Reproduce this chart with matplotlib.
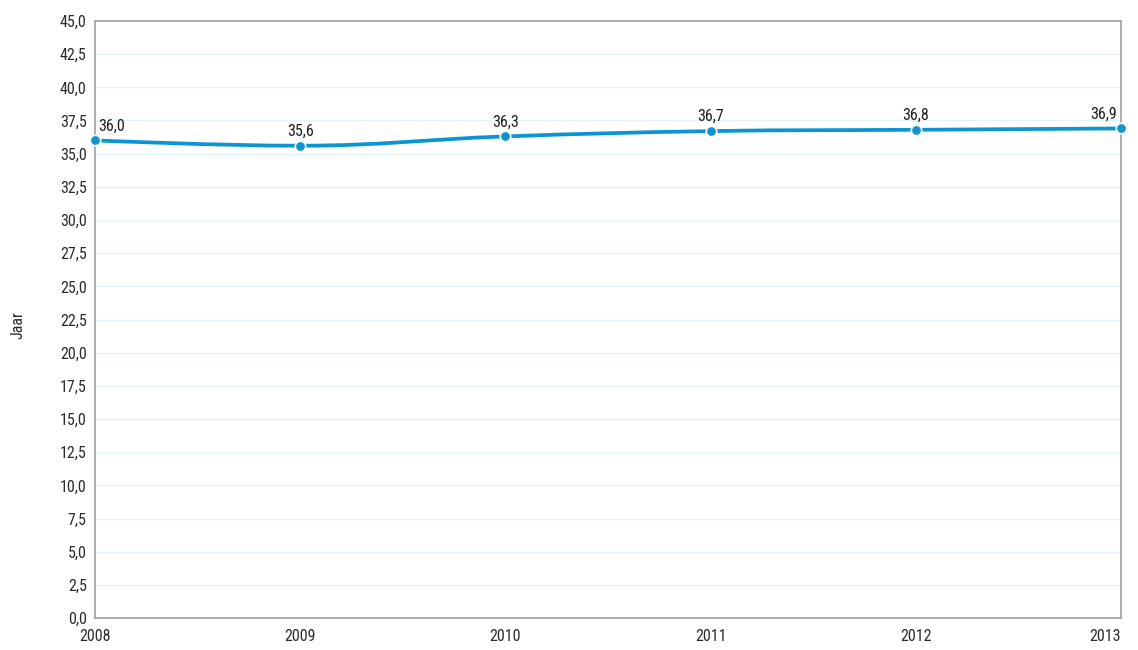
import matplotlib
matplotlib.use("Agg")
import matplotlib.pyplot as plt
from matplotlib.path import Path
from matplotlib.patches import PathPatch
from matplotlib.ticker import MultipleLocator, FuncFormatter
from matplotlib import font_manager

years = [2008, 2009, 2010, 2011, 2012, 2013]
values = [36.0, 35.6, 36.3, 36.7, 36.8, 36.9]
ylabel = "Jaar"

BLUE = "#0b95d3"
TEXT = "#2b2b2b"

installed = {f.name for f in font_manager.fontManager.ttflist}
fams = [f for f in ["Liberation Sans Narrow", "Roboto Condensed", "Open Sans Condensed",
                    "Liberation Sans"] if f in installed]
plt.rcParams["font.family"] = fams + ["DejaVu Sans"]
condensed = bool(fams) and ("Narrow" in fams[0] or "Condensed" in fams[0])
FS = 11.5 if condensed else 9.5


def spline_path(xs, ys, smoothing=1.5):
    # Highcharts-style spline: cubic bezier segments through each point
    verts = [(xs[0], ys[0])]
    codes = [Path.MOVETO]
    n = len(xs)
    conts = []
    for i in range(n):
        if i == 0 or i == n - 1:
            conts.append(((xs[i], ys[i]), (xs[i], ys[i])))
            continue
        d = smoothing + 1
        lx = (smoothing * xs[i] + xs[i - 1]) / d
        ly = (smoothing * ys[i] + ys[i - 1]) / d
        rx = (smoothing * xs[i] + xs[i + 1]) / d
        ry = (smoothing * ys[i] + ys[i + 1]) / d
        corr = ((ry - ly) * (rx - xs[i])) / (rx - lx) + ys[i] - ry
        ly += corr
        ry += corr
        if ly > max(ys[i - 1], ys[i]):
            ly = max(ys[i - 1], ys[i]); ry = 2 * ys[i] - ly
        elif ly < min(ys[i - 1], ys[i]):
            ly = min(ys[i - 1], ys[i]); ry = 2 * ys[i] - ly
        if ry > max(ys[i + 1], ys[i]):
            ry = max(ys[i + 1], ys[i]); ly = 2 * ys[i] - ry
        elif ry < min(ys[i + 1], ys[i]):
            ry = min(ys[i + 1], ys[i]); ly = 2 * ys[i] - ry
        conts.append(((lx, ly), (rx, ry)))
    for i in range(1, n):
        verts += [conts[i - 1][1], conts[i][0], (xs[i], ys[i])]
        codes += [Path.CURVE4] * 3
    return Path(verts, codes)


fig = plt.figure(figsize=(11.38, 6.5), dpi=100)
ax = fig.add_axes([95 / 1138, 32 / 650, 1026 / 1138, 597 / 650])

ax.set_xlim(years[0], years[-1])
ax.set_ylim(0, 45)
ax.yaxis.set_major_locator(MultipleLocator(2.5))
ax.yaxis.set_major_formatter(FuncFormatter(lambda v, p: ("%.1f" % v).replace(".", ",")))
ax.set_xticks(years)
ax.grid(axis="y", color="#e3f3fb", linewidth=1)
ax.set_axisbelow(True)
for s in ax.spines.values():
    s.set_color("#a0a0a0")
    s.set_linewidth(1.2)
ax.tick_params(length=0, labelsize=FS, colors=TEXT)
ax.tick_params(axis="y", pad=6)
ax.tick_params(axis="x", pad=8)
xl = ax.get_xticklabels()
xl[-1].set_horizontalalignment("right")

ax.add_patch(PathPatch(spline_path(years, values), facecolor="none",
                       edgecolor=BLUE, linewidth=2.7, clip_on=False, zorder=3))
ax.plot(years, values, "o", color=BLUE, markersize=7.5, markeredgecolor="white",
        markeredgewidth=1.2, clip_on=False, zorder=4)

for i, (x, v) in enumerate(zip(years, values)):
    lab = ("%.1f" % v).replace(".", ",")
    if i == 0:
        ha, dx = "left", 2
    elif i == len(years) - 1:
        ha, dx = "right", -3
    else:
        ha, dx = "center", 0
    ax.annotate(lab, (x, v), xytext=(dx, 5), textcoords="offset points",
                ha=ha, va="bottom", fontsize=FS, color="#1e1e1e", zorder=5)

fig.text(18 / 1138, 1 - 325 / 650, ylabel, rotation=90, ha="center", va="center",
         fontsize=FS, color=TEXT)

fig.savefig("out.png", dpi=100)
